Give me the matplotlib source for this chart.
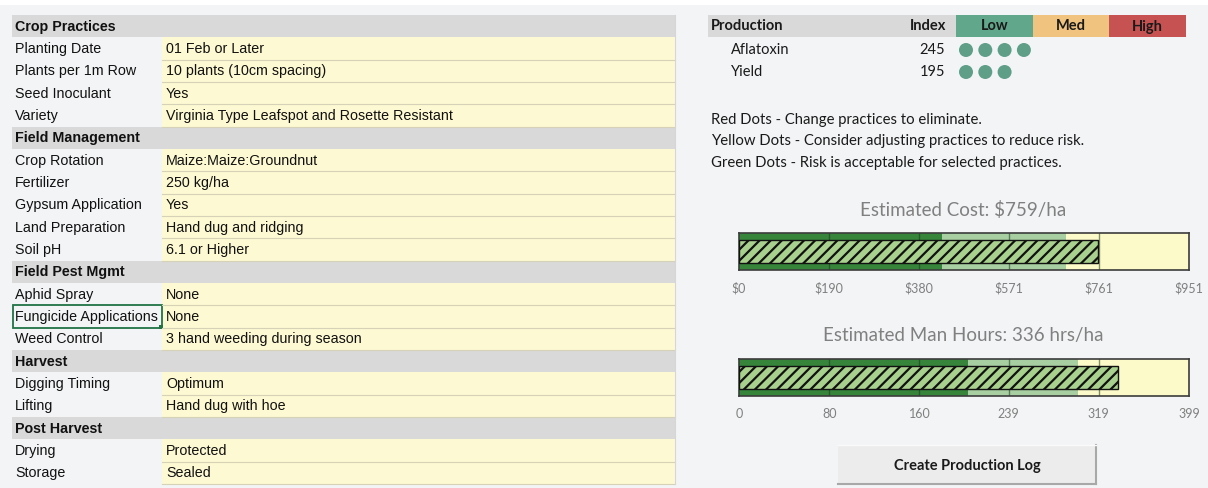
import matplotlib
matplotlib.use('Agg')
import matplotlib.pyplot as plt
from matplotlib.patches import Rectangle, Circle

plt.rcParams['hatch.linewidth'] = 1.6

# ---------------- data ----------------
section_names = ["Crop Practices", "Field Management", "Field Pest Mgmt", "Harvest", "Post Harvest"]
section_sizes = [4, 5, 3, 2, 2]
row_labels = ["Planting Date", "Plants per 1m Row", "Seed Inoculant", "Variety",
              "Crop Rotation", "Fertilizer", "Gypsum Application", "Land Preparation", "Soil pH",
              "Aphid Spray", "Fungicide Applications", "Weed Control",
              "Digging Timing", "Lifting",
              "Drying", "Storage"]
row_values = ["01 Feb or Later", "10 plants (10cm spacing)", "Yes",
              "Virginia Type Leafspot and Rosette Resistant",
              "Maize:Maize:Groundnut", "250 kg/ha", "Yes", "Hand dug and ridging", "6.1 or Higher",
              "None", "None", "3 hand weeding during season",
              "Optimum", "Hand dug with hoe",
              "Protected", "Sealed"]
selected_label = "Fungicide Applications"

prod_items = ["Aflatoxin", "Yield"]
prod_index = [245, 195]
prod_dots = [4, 3]
risk_levels = ["Low", "Med", "High"]

legend_lines = ["Red Dots - Change practices to eliminate.",
                "Yellow Dots - Consider adjusting practices to reduce risk.",
                "Green Dots - Risk is acceptable for selected practices."]

cost_title = "Estimated Cost: $759/ha"
cost_value = 759
cost_band_edges = [428, 691, 951]
cost_ticks = [0, 190, 380, 571, 761, 951]

hours_title = "Estimated Man Hours: 336 hrs/ha"
hours_value = 336
hours_band_edges = [203, 301, 399]
hours_ticks = [0, 80, 160, 239, 319, 399]

button_text = "Create Production Log"

# ---------------- style ----------------
BG = '#f3f4f6'
HDR = '#d9d9d9'
VAL_BG = '#fdf9d2'
TFONT = ['Liberation Sans', 'DejaVu Sans']
RFONT = ['Lato', 'DejaVu Sans']
risk_colors = ['#60a78b', '#f0c37f', '#c65351']
dot_color = '#5f9f88'

W, H = 1208, 488
fig = plt.figure(figsize=(W / 100, H / 100), dpi=100, facecolor=BG)
ax = fig.add_axes([0, 0, 1, 1])
ax.set_xlim(0, W)
ax.set_ylim(H, 0)
ax.axis('off')
ax.add_patch(Rectangle((0, 0), W, 5, color='white', lw=0))

# ---------------- left table ----------------
x0, xs, x1 = 12, 162, 675
top, rh = 15, 22.33
r = 0
k = 0
for name, n in zip(section_names, section_sizes):
    y = top + r * rh
    ax.add_patch(Rectangle((x0, y), x1 - x0, rh, color=HDR, lw=0))
    ax.text(x0 + 3, y + rh / 2 + 0.5, name, family=TFONT, fontsize=10.3, weight='bold',
            va='center', ha='left', color='#111111')
    r += 1
    for j in range(n):
        y = top + r * rh
        ax.add_patch(Rectangle((xs, y), x1 - xs, rh, color=VAL_BG, lw=0))
        ax.plot([xs, x1], [y + rh, y + rh], color='#d6d2b8', lw=0.8)
        ax.text(x0 + 3, y + rh / 2 + 0.5, row_labels[k], family=TFONT, fontsize=10.3,
                va='center', ha='left', color='#111111')
        ax.text(xs + 4, y + rh / 2 + 0.5, row_values[k], family=TFONT, fontsize=10.3,
                va='center', ha='left', color='#111111')
        if row_labels[k] == selected_label:
            ax.add_patch(Rectangle((x0 + 0.5, y), xs - x0 - 1, rh, fill=False,
                                   edgecolor='#217346', lw=1.3))
            ax.add_patch(Rectangle((xs - 3, y + rh - 3), 4, 4, color='#217346', lw=0))
        k += 1
        r += 1
ax.plot([x1, x1], [top, top + r * rh], color='#d6d6d6', lw=0.8)

# ---------------- production panel ----------------
ax.add_patch(Rectangle((708, 15), 956 - 708, 22, color=HDR, lw=0))
ax.text(711, 26.5, "Production", family=RFONT, fontsize=10.5, weight='bold', va='center', color='#1a1a1a')
ax.text(946, 26.5, "Index", family=RFONT, fontsize=10.5, weight='bold', va='center', ha='right', color='#1a1a1a')
rx = [956, 1033, 1109, 1186]
for i, lvl in enumerate(risk_levels):
    ax.add_patch(Rectangle((rx[i], 15), rx[i + 1] - rx[i], 22, color=risk_colors[i], lw=0))
    ax.text((rx[i] + rx[i + 1]) / 2, 26.5, lvl, family=RFONT, fontsize=10.5, weight='bold',
            va='center', ha='center', color='#1a1a1a')
for i, (item, idx, nd) in enumerate(zip(prod_items, prod_index, prod_dots)):
    yc = 50 + i * 22
    ax.text(731, yc, item, family=RFONT, fontsize=10.5, va='center', color='#1a1a1a')
    ax.text(945, yc, str(idx), family=RFONT, fontsize=10.5, va='center', ha='right', color='#1a1a1a')
    for d in range(nd):
        ax.add_patch(Circle((966 + d * 19.3, yc), 7, color=dot_color, lw=0))

for i, line in enumerate(legend_lines):
    ax.text(711, 120 + i * 21.5, line, family=RFONT, fontsize=10.75, va='center', color='#1a1a1a')

ax.text(963, 210, cost_title, family=RFONT, fontsize=13.5, va='center', ha='center', color='#808080')
ax.text(963, 336, hours_title, family=RFONT, fontsize=13.5, va='center', ha='center', color='#808080')

# button
bx0, bx1, by0, by1 = 838, 1096, 445, 484
ax.add_patch(Rectangle((bx0, by0), bx1 - bx0, by1 - by0, color='#ececec', lw=0))
ax.plot([bx0, bx1], [by1, by1], color='#a8a8a8', lw=1.5)
ax.plot([bx1, bx1], [by0, by1], color='#a8a8a8', lw=1.5)
ax.plot([bx0, bx1], [by0, by0], color='#fafafa', lw=1)
ax.text((bx0 + bx1) / 2, 466, button_text, family=RFONT, fontsize=10.5, weight='bold',
        va='center', ha='center', color='#1a1a1a')


# ---------------- bullet bars ----------------
def bullet(rect_px, value, edges, ticks, fmt):
    left, top_, w, h = rect_px
    bax = fig.add_axes([left / W, 1 - (top_ + h) / H, w / W, h / H])
    bax.set_facecolor('none')
    band_colors = ['#36853b', '#a7cfa2', '#fbfac8']
    lefts = [0] + edges[:-1]
    widths = [e - l for e, l in zip(edges, lefts)]
    bax.barh([0] * len(widths), widths, left=lefts, height=1, color=band_colors, lw=0, zorder=1)
    for t in ticks[1:-1]:
        bax.axvline(t, color='#1d361d', alpha=0.55, lw=1, zorder=2)
    bax.barh(0, value, height=0.62, color='#a9d18e', edgecolor='#111111', hatch='///', lw=1, zorder=3)
    bax.set_xlim(0, edges[-1])
    bax.set_ylim(-0.5, 0.5)
    bax.set_yticks([])
    bax.set_xticks(ticks)
    bax.set_xticklabels([fmt(t) for t in ticks], family=RFONT, fontsize=9, color='#7f7f7f')
    bax.tick_params(axis='x', length=0, pad=9)
    for s in bax.spines.values():
        s.set_color('#3c3c3c')
        s.set_linewidth(1.2)
    return bax


bullet((739, 233, 450, 37), cost_value, cost_band_edges, cost_ticks, lambda t: f"${t}")
bullet((739, 359, 450, 37), hours_value, hours_band_edges, hours_ticks, lambda t: f"{t}")

fig.savefig('out.png', dpi=100, facecolor=BG)
